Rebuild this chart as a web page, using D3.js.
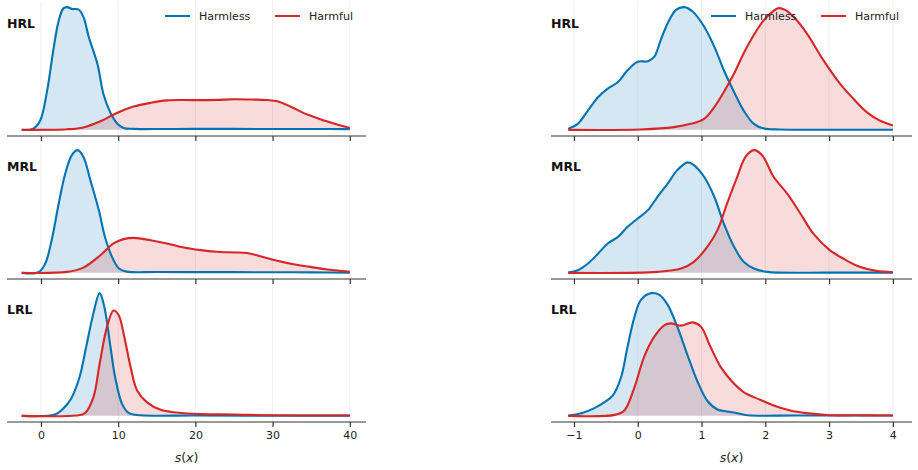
<!DOCTYPE html>
<html>
<head>
<meta charset="utf-8">
<script src="https://cdn.jsdelivr.net/npm/d3@7"></script>
<style>
  body { margin: 0; background: #fff; }
  svg { font-family: "DejaVu Sans", sans-serif; }
</style>
</head>
<body>
<div id="chart"></div>
<script>
// Row labels and series names
const rowLabels = ["HRL", "MRL", "LRL"];
const seriesNames = ["Harmless", "Harmful"];
const leftTicks = [0, 10, 20, 30, 40];
const rightTicks = [-1, 0, 1, 2, 3, 4];

// Density estimates: [s(x), density]
const leftHRLHarmless = [[-2.5,0],[-1,0.01],[-0.1,0.076],[0.8,0.32],[1.6,0.65],[2.3,0.89],[2.9,0.99],[3.4,1.0],[4.0,0.985],[4.9,0.98],[5.5,0.92],[6.2,0.755],[7.3,0.54],[8.1,0.29],[9.0,0.14],[9.9,0.05],[10.7,0.016],[12,0.008],[16,0.007],[20,0.008],[25,0.008],[30,0.007],[35,0.007],[40,0.006]];
const leftHRLHarmful = [[-2.5,0],[3.4,0.005],[5.5,0.02],[7.7,0.07],[9.9,0.14],[12,0.19],[14.2,0.22],[16.3,0.24],[18.5,0.243],[20.7,0.242],[22.8,0.244],[25,0.249],[27.2,0.247],[29.3,0.243],[30.6,0.233],[32.3,0.19],[34.5,0.125],[36.7,0.076],[38.8,0.035],[40,0.016]];

const leftMRLHarmless = [[-2.5,0],[-0.3,0.005],[0.56,0.076],[1.4,0.27],[2.3,0.565],[3.15,0.81],[4.0,0.96],[4.75,1.0],[5.5,0.945],[6.4,0.755],[7.5,0.51],[8.3,0.29],[9.2,0.13],[10.1,0.035],[11.1,0.01],[15,0.007],[20,0.006],[25,0.006],[30,0.005],[35,0.004],[40,0.002]];
const leftMRLHarmful = [[-2.5,0],[3.4,0.008],[5.5,0.043],[7.7,0.144],[9.4,0.24],[10.7,0.275],[12,0.285],[14.2,0.266],[16.3,0.24],[18.5,0.206],[20.7,0.185],[22.8,0.172],[25,0.166],[26.7,0.162],[28.4,0.135],[30.6,0.098],[32.7,0.07],[34.9,0.049],[37.1,0.027],[40,0.008]];

const leftLRLHarmless = [[-2.5,0],[1.8,0.011],[2.85,0.057],[3.9,0.14],[5.0,0.317],[5.86,0.563],[6.7,0.81],[7.6,1.0],[8.2,0.89],[9.0,0.563],[9.6,0.317],[10.5,0.098],[11.4,0.022],[12.9,0.005],[20,0.003],[30,0.002],[40,0.002]];
const leftLRLHarmful = [[-2.5,0],[4.6,0.003],[5.7,0.022],[6.8,0.153],[7.6,0.426],[8.56,0.727],[9.4,0.858],[10.07,0.82],[10.7,0.672],[11.6,0.4],[12.45,0.207],[13.7,0.112],[15.5,0.049],[17.6,0.027],[20.7,0.014],[25,0.011],[29.3,0.005],[40,0.003]];

const rightHRLHarmless = [[-1.09,0.008],[-0.94,0.049],[-0.78,0.158],[-0.62,0.268],[-0.47,0.336],[-0.31,0.39],[-0.16,0.486],[0,0.555],[0.16,0.56],[0.26,0.596],[0.36,0.732],[0.47,0.869],[0.6,0.978],[0.73,1.0],[0.86,0.964],[1.04,0.842],[1.2,0.678],[1.35,0.486],[1.51,0.309],[1.66,0.158],[1.82,0.049],[1.98,0.011],[2.23,0.003],[3,0.001],[4.0,0.001]];
const rightHRLHarmful = [[-1.09,0],[0.05,0.003],[0.57,0.022],[0.83,0.049],[1.04,0.09],[1.2,0.186],[1.35,0.309],[1.51,0.459],[1.66,0.623],[1.82,0.773],[1.98,0.896],[2.13,0.97],[2.21,0.992],[2.31,0.978],[2.44,0.923],[2.65,0.787],[2.91,0.568],[3.17,0.377],[3.38,0.254],[3.59,0.145],[3.79,0.077],[4.0,0.036]];

const rightMRLHarmless = [[-1.09,0.003],[-0.94,0.022],[-0.78,0.076],[-0.62,0.158],[-0.47,0.239],[-0.31,0.293],[-0.16,0.375],[0,0.443],[0.16,0.511],[0.31,0.62],[0.47,0.728],[0.62,0.837],[0.78,0.9],[0.88,0.878],[1.04,0.783],[1.2,0.62],[1.35,0.402],[1.51,0.212],[1.66,0.09],[1.82,0.035],[2.03,0.008],[3,0.002],[4.0,0.002]];
const rightMRLHarmful = [[-1.09,0],[0.31,0.008],[0.68,0.035],[0.88,0.09],[1.09,0.212],[1.25,0.348],[1.4,0.565],[1.56,0.783],[1.69,0.946],[1.82,1.0],[1.95,0.959],[2.13,0.783],[2.34,0.647],[2.55,0.484],[2.75,0.321],[3.01,0.185],[3.22,0.117],[3.48,0.049],[3.74,0.016],[4.0,0.005]];

const rightLRLHarmless = [[-1.09,0.003],[-0.88,0.022],[-0.68,0.063],[-0.52,0.112],[-0.39,0.167],[-0.26,0.317],[-0.16,0.563],[-0.05,0.809],[0.05,0.945],[0.21,1.0],[0.34,0.986],[0.47,0.904],[0.62,0.727],[0.78,0.495],[0.94,0.276],[1.09,0.123],[1.25,0.052],[1.4,0.036],[1.56,0.022],[1.72,0.005],[2.5,0.003],[4.0,0.003]];
const rightLRLHarmful = [[-1.09,0],[-0.36,0.008],[-0.21,0.044],[-0.05,0.235],[0.1,0.481],[0.26,0.645],[0.42,0.74],[0.52,0.754],[0.68,0.735],[0.86,0.762],[0.99,0.727],[1.14,0.563],[1.3,0.399],[1.46,0.29],[1.66,0.194],[1.92,0.131],[2.13,0.085],[2.39,0.044],[2.65,0.022],[3.01,0.005],[3.38,0.005],[4.0,0.003]];

const colors = { Harmless: "#0173b2", Harmful: "#d62728" };

const W = 918, H = 470;
const svg = d3.select("#chart").append("svg")
    .attr("width", W)
    .attr("height", H);

// Column setup: x domain includes matplotlib-like 5% padding
const columns = [
    { x0: 7, x1: 366, domain: [-4.4, 42.1], ticks: leftTicks, legendX: 165,
      rows: [[leftHRLHarmless, leftHRLHarmful], [leftMRLHarmless, leftMRLHarmful], [leftLRLHarmless, leftLRLHarmful]] },
    { x0: 551, x1: 912, domain: [-1.36, 4.3], ticks: rightTicks, legendX: 711,
      rows: [[rightHRLHarmless, rightHRLHarmful], [rightMRLHarmless, rightMRLHarmful], [rightLRLHarmless, rightLRLHarmful]] }
];

const rowTop = 1, rowHeight = 135, rowStep = 143;

columns.forEach(col => {
    const x = d3.scaleLinear().domain(col.domain).range([col.x0, col.x1]);

    col.rows.forEach((pair, i) => {
        const top = rowTop + i * rowStep;
        const bottom = top + rowHeight;
        const maxY = d3.max(pair, s => d3.max(s, d => d[1]));
        const y = d3.scaleLinear()
            .domain([-0.05 * maxY, 1.05 * maxY])
            .range([bottom, top]);

        const g = svg.append("g");

        // faint vertical grid
        g.selectAll(".grid")
            .data(col.ticks)
            .enter().append("line")
            .attr("x1", d => x(d)).attr("x2", d => x(d))
            .attr("y1", top).attr("y2", bottom)
            .attr("stroke", "#ebebeb")
            .attr("stroke-width", 0.8);

        // keep smoothed curve above zero
        const yc = v => y(Math.max(0, v));
        const area = d3.area()
            .x(d => x(d[0]))
            .y0(y(0))
            .y1(d => y(d[1]))
            .curve(d3.curveCatmullRom.alpha(0.5));
        const line = d3.line()
            .x(d => x(d[0]))
            .y(d => y(d[1]))
            .curve(d3.curveCatmullRom.alpha(0.5));

        pair.forEach((series, k) => {
            const c = colors[seriesNames[k]];
            g.append("path")
                .attr("d", area(series))
                .attr("fill", c)
                .attr("fill-opacity", 0.17);
        });
        pair.forEach((series, k) => {
            const c = colors[seriesNames[k]];
            g.append("path")
                .attr("d", line(series))
                .attr("fill", "none")
                .attr("stroke", c)
                .attr("stroke-width", 2.1)
                .attr("stroke-linejoin", "round");
        });

        // bottom axis, labels only on the last row
        const axis = d3.axisBottom(x)
            .tickValues(col.ticks)
            .tickSize(5)
            .tickPadding(4)
            .tickFormat(i === 2 ? d3.format("d") : "");
        const ax = g.append("g")
            .attr("transform", `translate(0,${bottom})`)
            .call(axis);
        ax.select(".domain").attr("d", `M${col.x0},0H${col.x1}`).attr("stroke", "#333").attr("stroke-width", 1);
        ax.selectAll(".tick line").attr("stroke", "#333").attr("stroke-width", 1.2);
        ax.selectAll(".tick text")
            .attr("font-size", 11)
            .attr("font-family", "DejaVu Sans, sans-serif")
            .attr("fill", "#222");

        g.append("text")
            .attr("x", col.x0)
            .attr("y", top + 27)
            .attr("font-size", 12.5)
            .attr("font-weight", "bold")
            .attr("fill", "#111")
            .text(rowLabels[i]);

        if (i === 0) {
            const lg = g.append("g");
            const offsets = [0, 110];
            seriesNames.forEach((name, k) => {
                const lx = col.legendX + offsets[k];
                lg.append("line")
                    .attr("x1", lx).attr("x2", lx + 25)
                    .attr("y1", 16).attr("y2", 16)
                    .attr("stroke", colors[name])
                    .attr("stroke-width", 2);
                lg.append("text")
                    .attr("x", lx + 34)
                    .attr("y", 20)
                    .attr("font-size", 11)
                    .attr("fill", "#222")
                    .text(name);
            });
        }
    });

    // x label
    svg.append("text")
        .attr("x", (x(col.domain[0]) + x(col.domain[1])) / 2)
        .attr("y", 462)
        .attr("text-anchor", "middle")
        .attr("font-size", 12.5)
        .attr("fill", "#222")
        .html('<tspan font-style="italic">s</tspan>(<tspan font-style="italic">x</tspan>)');
});
</script>
</body>
</html>
